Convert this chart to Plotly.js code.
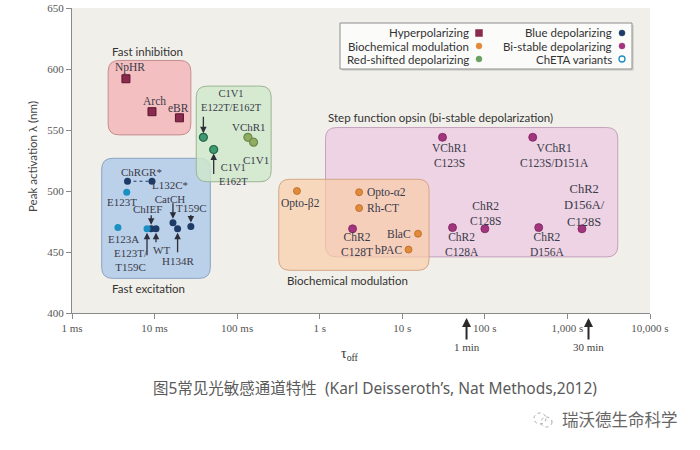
<!DOCTYPE html>
<html><head><meta charset="utf-8">
<script src="https://cdn.plot.ly/plotly-3.0.1.min.js"></script>
<style>html,body{margin:0;padding:0;background:#fff}#chart{width:700px;height:450px}</style>
</head><body><div id="chart"></div>
<script>
// ---------- data (τoff in seconds, peak activation in nm) ----------
const hypNames = ['NpHR', 'Arch', 'eBR'];
const hypTau   = [0.0045, 0.0093, 0.020];
const hypPeak  = [592, 565, 560];

const redNames = ['C1V1 E122T/E162T', 'C1V1 E162T', 'VChR1', 'C1V1'];
const redTau   = [0.039, 0.052, 0.135, 0.158];
const redPeak  = [544, 534, 544, 540];

const blueNames = ['ChRGR* (a)', 'ChRGR* (b)', 'ChIEF', 'WT', 'L132C*/CatCH', 'H134R', 'T159C'];
const blueTau   = [0.0047, 0.0093, 0.0091, 0.0104, 0.0167, 0.019, 0.0275];
const bluePeak  = [508, 508, 469, 469, 474, 469, 471];

const chetaNames = ['E123T', 'E123A', 'E123T/T159C'];
const chetaTau   = [0.0046, 0.0036, 0.0081];
const chetaPeak  = [499, 470, 469];

const bioNames = ['Opto-β2', 'Opto-α2', 'Rh-CT', 'BlaC', 'bPAC'];
const bioTau   = [0.53, 3.0, 3.0, 15.5, 11.9];
const bioPeak  = [500, 499, 486, 465, 452];

const bisNames = ['ChR2 C128T', 'VChR1 C123S', 'VChR1 C123S/D151A', 'ChR2 C128A', 'ChR2 C128S', 'ChR2 D156A', 'ChR2 D156A/C128S'];
const bisTau   = [2.5, 30.7, 380, 40.6, 100, 449, 1500];
const bisPeak  = [469, 544, 544, 470, 469, 470, 469];

const groupNames   = ['Fast inhibition', 'Red-shifted', 'Fast excitation', 'Biochemical modulation', 'Step function opsin (bi-stable depolarization)'];
const groupTauMin  = [0.00274, 0.032, 0.00229, 0.319, 1.175];
const groupTauMax  = [0.0275, 0.258, 0.0473, 21.1, 4074];
const groupPeakMin = [546, 507.6, 428.4, 435, 446];
const groupPeakMax = [607, 586, 526.8, 509.6, 552];

const timeMarkNames = ['1 min', '30 min'];
const timeMarkTau   = [60, 1800];

const xTickVals = [0.001, 0.01, 0.1, 1, 10, 100, 1000, 10000];
const xTickText = ['1 ms', '10 ms', '100 ms', '1 s', '10 s', '100 s', '1,000 s', '10,000 s'];
const yTickVals = [400, 450, 500, 550, 600, 650];

// ---------- layout / style ----------
const W = 700, H = 450;
const M = {l: 72, r: 50, t: 8, b: 137};
const PW = W - M.l - M.r, PH = H - M.t - M.b;
const X_DEC = 7, Y_SPAN = 250;
const px2x = px => (px - M.l) / PW;
const py2y = py => (H - M.b - py) / PH;

const C = {
  hyp: '#8a2a4c', hypLine: '#5a1530',
  bio: '#e08a3a', bioLine: '#b86a28',
  redA: '#3f9a70', redALine: '#22664a',
  redB: '#8fac62', redBLine: '#6a8a48',
  blue: '#1e3a66', cheta: '#1b8fc2',
  bis: '#a3347e', bisLine: '#7a2260',
  txt: '#3a3a48'
};
const SERIF = 'Liberation Serif, DejaVu Serif, serif';
const SANS = 'Lato, Open Sans, sans-serif';
const CAPFONT = 'Noto Sans, Noto Sans CJK SC, sans-serif';

const groupStyle = [
  {fill: 'rgba(244,182,184,0.85)', line: '#c48e90'},
  {fill: 'rgba(208,232,204,0.80)', line: '#9bb592'},
  {fill: 'rgba(172,201,232,0.80)', line: '#8aa2c4'},
  {fill: 'rgba(250,205,168,0.68)', line: '#d4a684'},
  {fill: 'rgba(236,200,226,0.72)', line: '#c6a0bc'}
];
const groupOrder = [4, 3, 0, 2, 1];

function roundRect(t0, t1, p0, p1, r) {
  const l0 = Math.log10(t0), l1 = Math.log10(t1);
  const rx = r / (PW / X_DEC), ry = r / (PH / Y_SPAN);
  const X = v => Math.pow(10, v).toPrecision(7);
  return `M${X(l0 + rx)},${p1} L${X(l1 - rx)},${p1} Q${X(l1)},${p1} ${X(l1)},${p1 - ry} ` +
         `L${X(l1)},${p0 + ry} Q${X(l1)},${p0} ${X(l1 - rx)},${p0} L${X(l0 + rx)},${p0} ` +
         `Q${X(l0)},${p0} ${X(l0)},${p0 + ry} L${X(l0)},${p1 - ry} Q${X(l0)},${p1} ${X(l0 + rx)},${p1} Z`;
}

const shapes = [];
groupOrder.forEach(i => {
  shapes.push({type: 'path', xref: 'x', yref: 'y', layer: 'below',
    path: roundRect(groupTauMin[i], groupTauMax[i], groupPeakMin[i], groupPeakMax[i], 11),
    fillcolor: groupStyle[i].fill, line: {color: groupStyle[i].line, width: 1}});
});

// ---------- traces ----------
const traces = [
  {x: [blueTau[0], blueTau[1]], y: [bluePeak[0], bluePeak[1]], mode: 'lines',
   line: {color: C.blue, width: 1, dash: 'dot'}, hoverinfo: 'skip'},
  {x: hypTau, y: hypPeak, text: hypNames, mode: 'markers', name: 'Hyperpolarizing',
   marker: {symbol: 'square', size: 8, color: C.hyp, line: {color: C.hypLine, width: 1}}},
  {x: redTau, y: redPeak, text: redNames, mode: 'markers', name: 'Red-shifted depolarizing',
   marker: {size: 8, color: [C.redA, C.redA, C.redB, C.redB],
            line: {color: [C.redALine, C.redALine, C.redBLine, C.redBLine], width: 1.2}}},
  {x: blueTau, y: bluePeak, text: blueNames, mode: 'markers', name: 'Blue depolarizing',
   marker: {size: 7, color: C.blue}},
  {x: chetaTau, y: chetaPeak, text: chetaNames, mode: 'markers', name: 'ChETA variants',
   marker: {size: 7, color: C.cheta}},
  {x: bioTau, y: bioPeak, text: bioNames, mode: 'markers', name: 'Biochemical modulation',
   marker: {size: 7, color: C.bio, line: {color: C.bioLine, width: 0.8}}},
  {x: bisTau, y: bisPeak, text: bisNames, mode: 'markers', name: 'Bi-stable depolarizing',
   marker: {size: 8, color: C.bis, line: {color: C.bisLine, width: 0.8}}}
];

// ---------- point labels ----------
const annotations = [];
function label(tau, peak, text, dx, dy, anchor, size) {
  annotations.push({x: Math.log10(tau), y: peak, xref: 'x', yref: 'y', text: text, showarrow: false,
    xanchor: anchor || 'center', yanchor: 'middle', xshift: dx, yshift: -dy,
    font: {family: SERIF, size: size || 11.5, color: C.txt}});
}
function arrow(tau, peak, ax, ay) {
  annotations.push({x: Math.log10(tau), y: peak, xref: 'x', yref: 'y', text: '', showarrow: true,
    ax: ax, ay: ay, arrowhead: 2, arrowsize: 1, arrowwidth: 1.3, arrowcolor: '#2e2e3a', standoff: 4});
}
// hyperpolarizing
label(hypTau[0], hypPeak[0], hypNames[0], 4, -11);
label(hypTau[1], hypPeak[1], hypNames[1], 3, -11);
label(hypTau[2], hypPeak[2], hypNames[2], -1, -10);
// red-shifted
label(redTau[0], redPeak[0], 'C1V1<br>E122T/E162T', -4, -37, 'left', 10.5);
arrow(redTau[0], redPeak[0], 0, -22);
label(redTau[1], redPeak[1], 'C1V1<br>E162T', 3, 25, 'left', 10.5);
arrow(redTau[1], redPeak[1], 0, 26);
label(redTau[2], redPeak[2], redNames[2], 1, -10, 'center', 11);
label(redTau[3], redPeak[3], redNames[3], 2, 18, 'center', 11);
// blue
label(blueTau[0], bluePeak[0], 'ChRGR*', 14, -9, 'center', 11);
label(blueTau[2], bluePeak[2], blueNames[2], -4, -20, 'center', 11);
arrow(blueTau[2], bluePeak[2], 0, -15);
label(blueTau[3], bluePeak[3], blueNames[3], 6, 21, 'center', 11);
arrow(blueTau[3], bluePeak[3], 0, 15);
label(blueTau[4], bluePeak[4], 'L132C*<br>CatCH', -3, -31, 'center', 11);
arrow(blueTau[4], bluePeak[4], 0, -21);
label(blueTau[5], bluePeak[5], blueNames[5], 0, 32, 'center', 11);
arrow(blueTau[5], bluePeak[5], 0, 25);
label(blueTau[6], bluePeak[6], blueNames[6], 1, -18, 'center', 11);
arrow(blueTau[6], bluePeak[6], 0, -13);
// ChETA
label(chetaTau[0], chetaPeak[0], chetaNames[0], -5, 10, 'center', 11);
label(chetaTau[1], chetaPeak[1], chetaNames[1], 6, 11, 'center', 11);
label(chetaTau[2], chetaPeak[2], 'E123T/<br>T159C', -35, 31, 'left', 11);
arrow(chetaTau[2], chetaPeak[2], 0, 28);
// biochemical
label(bioTau[0], bioPeak[0], bioNames[0], 4, 12);
label(bioTau[1], bioPeak[1], bioNames[1], 6, 0, 'left');
label(bioTau[2], bioPeak[2], bioNames[2], 6, 0, 'left');
label(bioTau[3], bioPeak[3], bioNames[3], -5, 0, 'right');
label(bioTau[4], bioPeak[4], bioNames[4], -5, 0, 'right');
// bi-stable
label(bisTau[0], bisPeak[0], 'ChR2<br>C128T', -14, 16, 'left');
label(bisTau[1], bisPeak[1], 'VChR1<br>C123S', -13, 18, 'left');
label(bisTau[2], bisPeak[2], 'VChR1<br>C123S/D151A', -15, 18, 'left');
label(bisTau[3], bisPeak[3], 'ChR2<br>C128A', -10, 17, 'left');
label(bisTau[4], bisPeak[4], 'ChR2<br>C128S', -17, -15, 'left');
label(bisTau[5], bisPeak[5], 'ChR2<br>D156A', -11, 17, 'left');
label(bisTau[6], bisPeak[6], 'ChR2<br>D156A/<br>C128S', -20, -23, 'left', 12.5);

// group titles
const groupTitlePx = [[110, 52], null, [110, 288], [285, 280], [326, 118]];
groupTitlePx.forEach((p, i) => {
  if (!p) return;
  annotations.push({xref: 'paper', yref: 'paper', x: px2x(p[0]), y: py2y(p[1]), text: groupNames[i],
    showarrow: false, xanchor: 'left', yanchor: 'middle', font: {family: SANS, size: 11.5, color: '#333'}});
});

// time marks (1 min, 30 min)
timeMarkTau.forEach((t, i) => {
  annotations.push({x: Math.log10(t), y: py2y(318), xref: 'x', yref: 'paper', text: timeMarkNames[i],
    showarrow: true, ax: 0, ay: 29, arrowhead: 2, arrowsize: 0.9, arrowwidth: 2, arrowcolor: '#2a2a2a',
    font: {family: SERIF, size: 11, color: '#444'}});
});

// axis titles
annotations.push({xref: 'paper', yref: 'paper', x: px2x(350), y: py2y(354), text: 'τ<sub>off</sub>',
  xanchor: 'center', yanchor: 'middle', showarrow: false, font: {family: SERIF, size: 14, color: '#333'}});
annotations.push({xref: 'paper', yref: 'paper', x: px2x(32), y: py2y(157), text: 'Peak activation λ (nm)',
  xanchor: 'center', yanchor: 'middle', textangle: -90, showarrow: false, font: {family: SANS, size: 11.5, color: '#444'}});

// caption + watermark
annotations.push({xref: 'paper', yref: 'paper', x: px2x(375), y: py2y(388),
  xanchor: 'center', yanchor: 'middle',
  text: '图5常见光敏感通道特性  (Karl Deisseroth\u2019s, Nat Methods,2012)', showarrow: false,
  font: {family: CAPFONT, size: 15.5, color: '#5a5a5a'}});
annotations.push({xref: 'paper', yref: 'paper', x: px2x(620), y: py2y(419), text: '瑞沃德生命科学',
  xanchor: 'center', yanchor: 'middle',
  showarrow: false, font: {family: 'Noto Sans CJK SC, sans-serif', size: 16.5, color: '#666'}});
shapes.push({type: 'circle', xref: 'paper', yref: 'paper', layer: 'above',
  x0: px2x(534), x1: px2x(546), y0: py2y(424), y1: py2y(413), line: {color: '#aaa', width: 1, dash: 'dot'}});
shapes.push({type: 'circle', xref: 'paper', yref: 'paper', layer: 'above',
  x0: px2x(541), x1: px2x(552), y0: py2y(427), y1: py2y(417), line: {color: '#aaa', width: 1, dash: 'dot'}});

// ---------- custom legend (symbols to the right of text) ----------
const legendItems = [
  {text: 'Hyperpolarizing', col: 0, row: 0, sym: 'rect', color: C.hyp},
  {text: 'Biochemical modulation', col: 0, row: 1, sym: 'circle', color: C.bio},
  {text: 'Red-shifted depolarizing', col: 0, row: 2, sym: 'circle', color: '#6aa064'},
  {text: 'Blue depolarizing', col: 1, row: 0, sym: 'circle', color: C.blue},
  {text: 'Bi-stable depolarizing', col: 1, row: 1, sym: 'circle', color: C.bis},
  {text: 'ChETA variants', col: 1, row: 2, sym: 'open', color: C.cheta}
];
const legTextRight = [471, 614], legSym = [479, 622], legRows = [33, 46, 59];
shapes.push({type: 'rect', xref: 'paper', yref: 'paper', layer: 'above',
  x0: px2x(342), x1: px2x(634), y0: py2y(71), y1: py2y(25), fillcolor: '#d9d9d6', line: {width: 0}});
shapes.push({type: 'rect', xref: 'paper', yref: 'paper', layer: 'above',
  x0: px2x(340), x1: px2x(632), y0: py2y(69), y1: py2y(23), fillcolor: '#fbfbfa', line: {color: '#8c8c8c', width: 1}});
legendItems.forEach(it => {
  const yy = py2y(legRows[it.row]);
  annotations.push({xref: 'paper', yref: 'paper', x: px2x(legTextRight[it.col]), y: yy, text: it.text,
    showarrow: false, xanchor: 'right', yanchor: 'middle', font: {family: SANS, size: 11.5, color: '#333'}});
  const s = it.sym === 'rect' ? 3.5 : 3;
  shapes.push({type: it.sym === 'rect' ? 'rect' : 'circle', xref: 'paper', yref: 'paper', layer: 'above',
    xsizemode: 'pixel', ysizemode: 'pixel', xanchor: px2x(legSym[it.col]), yanchor: yy,
    x0: -s, x1: s, y0: -s, y1: s,
    fillcolor: it.sym === 'open' ? '#ffffff' : it.color,
    line: {color: it.color, width: it.sym === 'open' ? 1.3 : 0.5}});
});

const axisFont = {family: SERIF, size: 11, color: '#555'};
const layout = {
  width: W, height: H, margin: M, showlegend: false,
  paper_bgcolor: '#ffffff', plot_bgcolor: '#f1efe9',
  xaxis: {type: 'log', range: [-3, 4], tickmode: 'array', tickvals: xTickVals, ticktext: xTickText,
    ticks: 'outside', ticklen: 5, tickcolor: '#8a8a8a', showline: true, linecolor: '#8a8a8a', linewidth: 1,
    showgrid: false, zeroline: false, tickfont: axisFont, fixedrange: true},
  yaxis: {range: [400, 650], tickmode: 'array', tickvals: yTickVals,
    ticks: 'outside', ticklen: 5, tickcolor: '#8a8a8a', showline: true, linecolor: '#8a8a8a', linewidth: 1,
    showgrid: false, zeroline: false, tickfont: axisFont, fixedrange: true},
  shapes: shapes, annotations: annotations
};
Plotly.newPlot('chart', traces, layout, {displayModeBar: false, staticPlot: true});
</script></body></html>
